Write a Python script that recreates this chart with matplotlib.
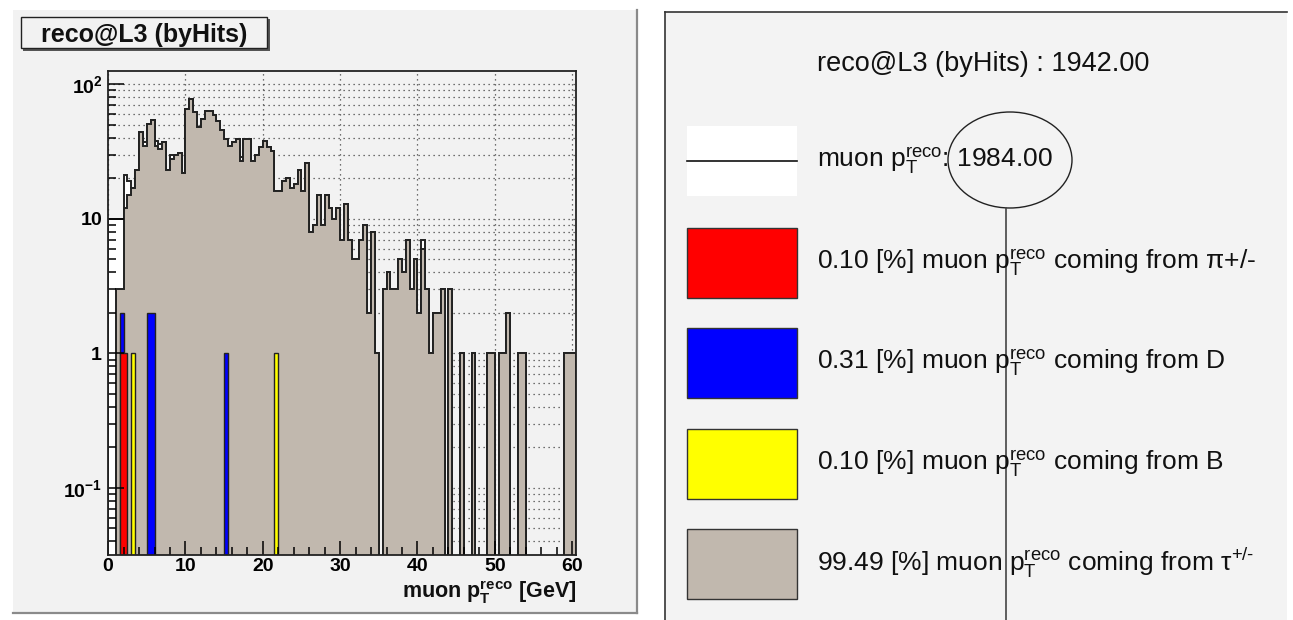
import numpy as np
import matplotlib
matplotlib.use('Agg')
import matplotlib.pyplot as plt
from matplotlib.patches import Rectangle, Ellipse
from matplotlib.ticker import FixedLocator, FixedFormatter, MultipleLocator, LogLocator, NullFormatter

plt.rcParams['font.family'] = ['Liberation Sans', 'DejaVu Sans']
plt.rcParams['mathtext.fontset'] = 'custom'
plt.rcParams['mathtext.rm'] = 'Liberation Sans'
plt.rcParams['mathtext.it'] = 'Liberation Sans:italic'
plt.rcParams['mathtext.bf'] = 'Liberation Sans:bold'

# binning: 0.5 GeV bins, 0 .. 60.5 GeV
bin_lo, bin_hi, bin_w = 0.0, 60.5, 0.5
edges = np.arange(bin_lo, bin_hi + bin_w / 2, bin_w)
nbins = len(edges) - 1

# muon pT reco coming from tau (grey)
tau = [0, 0, 3, 3, 12, 15, 17, 23, 44, 35,
       51, 54, 35, 33, 37, 23, 28, 30, 31, 22,
       66, 78, 62, 48, 55, 63, 63, 59, 53, 46,
       39, 35, 37, 39, 27, 39, 39, 27, 30, 34,
       38, 34, 32, 16, 16, 19, 20, 17, 18, 23,
       16, 26, 8, 9, 15, 9, 15, 12, 10, 12,
       7, 13, 7, 5, 5, 7, 9, 2, 8, 1,
       0, 3, 4, 3, 3, 5, 4, 7, 3, 5,
       2, 6, 3, 1, 2, 2, 3, 0, 3, 0,
       0, 1, 0, 0, 1, 0, 0, 0, 1, 1,
       0, 1, 1, 2, 0, 0, 1, 1, 0, 0,
       0, 0, 0, 0, 0, 0, 0, 0, 1, 1,
       1]

# all muon pT reco (white)
total = [10, 10, 10, 10, 21, 19, 17, 23, 44, 37,
         51, 54, 38, 36, 37, 23, 30, 30, 31, 22,
         66, 78, 62, 48, 55, 63, 63, 59, 53, 46,
         39, 35, 37, 39, 29, 39, 39, 27, 30, 34,
         38, 34, 32, 16, 16, 19, 20, 17, 18, 23,
         16, 26, 8, 9, 15, 9, 15, 12, 10, 12,
         7, 13, 7, 5, 5, 7, 9, 2, 8, 1,
         0, 3, 4, 3, 3, 5, 4, 7, 3, 5,
         2, 7, 3, 1, 2, 2, 3, 0, 3, 0,
         0, 1, 0, 0, 1, 0, 0, 0, 1, 1,
         0, 1, 1, 2, 0, 0, 1, 1, 0, 0,
         0, 0, 0, 0, 0, 0, 0, 0, 1, 1,
         1]

# sparse sources: bin low edge -> entries
pion_x, pion_n = [1.5, 2.0], [1, 1]
dmes_x, dmes_n = [1.5, 5.0, 5.5, 15.0], [2, 2, 2, 1]
bmes_x, bmes_n = [3.0, 21.5], [1, 1]

legend_header = "reco@L3 (byHits) : 1942.00"
ptreco = r"$\mathrm{p}_{\mathrm{T}}^{\mathrm{reco}}$"
legend_labels = ["muon " + ptreco + ": 1984.00",
                 "0.10 [%] muon " + ptreco + " coming from π+/-",
                 "0.31 [%] muon " + ptreco + " coming from D",
                 "0.10 [%] muon " + ptreco + " coming from B",
                 "99.49 [%] muon " + ptreco + r" coming from $\mathrm{τ}^{\text{+/-}}$"]
legend_colors = ['white', '#ff0000', '#0000ff', '#ffff00', '#c1b8ae']
legend_rows = [161, 263, 363, 464, 564]

xticks = [0, 10, 20, 30, 40, 50, 60]
yticks = [0.1, 1, 10, 100]
ytick_labels = [r'$\mathbf{10^{-1}}$', r'$\mathbf{1}$', r'$\mathbf{10}$', r'$\mathbf{10^{2}}$']


def full(xs, ns):
    arr = np.zeros(nbins)
    idx = np.round((np.array(xs) - bin_lo) / bin_w).astype(int)
    arr[idx] = ns
    return arr


floor = 1e-3
W, H = 1293, 620
fig = plt.figure(figsize=(W / 100, H / 100), dpi=100)
fig.patch.set_facecolor('white')

# background layer in pixel coordinates
bg = fig.add_axes([0, 0, 1, 1], zorder=0)
bg.set_xlim(0, W)
bg.set_ylim(H, 0)
bg.axis('off')
bg.add_patch(Rectangle((13, 10), 624, 603, facecolor='#f2f2f2', edgecolor='none'))
bg.plot([637, 637], [10, 613], color='#8a8a8a', lw=1.6)
bg.plot([13, 637], [613, 613], color='#8a8a8a', lw=1.6)

# title box
bg.add_patch(Rectangle((23, 19), 247, 32, facecolor='#555555', edgecolor='none'))
bg.add_patch(Rectangle((21, 17), 246, 31, facecolor='#f2f2f2', edgecolor='#222222', lw=1))
bg.text(144, 42, "reco@L3 (byHits)", ha='center', va='baseline', fontsize=18,
        fontweight='bold', color='#111111')

# legend box
bg.add_patch(Rectangle((665, 12), 622, 610, facecolor='#f3f3f3', edgecolor='none'))
bg.plot([665, 1287], [12, 12], color='#333333', lw=1.2)
bg.plot([665, 665], [12, 620], color='#333333', lw=1.2)
bg.text(817, 71, legend_header, ha='left', va='baseline', fontsize=19.5, color='#111111')
for lab, col, yc in zip(legend_labels, legend_colors, legend_rows):
    if col == 'white':
        bg.add_patch(Rectangle((687, yc - 35), 110, 70, facecolor='white', edgecolor='none'))
        bg.plot([687, 797], [yc, yc], color='#111111', lw=1.2)
    else:
        bg.add_patch(Rectangle((687, yc - 35), 110, 70, facecolor=col, edgecolor='#333333', lw=1))
    bg.text(817, yc + 7, lab, ha='left', va='baseline', fontsize=19, color='#111111')

# hand drawn annotation
bg.add_patch(Ellipse((1010, 160), 124, 96, fill=False, edgecolor='#222222', lw=1))
bg.plot([1006, 1006], [208, 620], color='#444444', lw=1.2)

# axes rectangle (pixels)
x0, x1, y0, y1 = 108.1, 576, 71, 555
rect = [x0 / W, (H - y1) / H, (x1 - x0) / W, (y1 - y0) / H]
xlim = (bin_lo, bin_hi)
ylim = (0.0317, 125.6)

# grid layer below the histograms
gax = fig.add_axes(rect, zorder=1)
gax.set_facecolor('#f2f2f2')
gax.set_yscale('log')
gax.set_xlim(*xlim)
gax.set_ylim(*ylim)
gax.xaxis.set_major_locator(FixedLocator(xticks))
gax.yaxis.set_major_locator(FixedLocator(yticks))
gax.yaxis.set_minor_locator(LogLocator(base=10, subs=np.arange(2, 10)))
gax.grid(True, axis='x', which='major', color='#444444', lw=0.9, ls=(0, (1, 3)))
gax.grid(True, axis='y', which='both', color='#444444', lw=0.9, ls=(0, (1, 3)))
gax.tick_params(which='both', length=0, labelbottom=False, labelleft=False)
for s in gax.spines.values():
    s.set_visible(False)

ax = fig.add_axes(rect, zorder=2)
ax.set_facecolor('none')
ax.set_yscale('log')

ax.stairs(np.where(np.array(total) > 0, total, floor), edges, baseline=floor, fill=True,
          facecolor='white', edgecolor='#222222', lw=1.4)
ax.stairs(np.where(np.array(tau) > 0, tau, floor), edges, baseline=floor, fill=True,
          facecolor='#c1b8ae', edgecolor='#222222', lw=1.4)
for xs, ns, col in [(dmes_x, dmes_n, '#0000ff'), (pion_x, pion_n, '#ff0000'),
                    (bmes_x, bmes_n, '#ffff00')]:
    v = full(xs, ns)
    ax.stairs(np.where(v > 0, v, floor), edges, baseline=floor, fill=True,
              facecolor=col, edgecolor='#222222', lw=1.0)

ax.set_xlim(*xlim)
ax.set_ylim(*ylim)
ax.xaxis.set_major_locator(FixedLocator(xticks))
ax.xaxis.set_minor_locator(MultipleLocator(2))
ax.yaxis.set_major_locator(FixedLocator(yticks))
ax.yaxis.set_major_formatter(FixedFormatter(ytick_labels))
ax.yaxis.set_minor_locator(LogLocator(base=10, subs=np.arange(2, 10)))
ax.yaxis.set_minor_formatter(NullFormatter())
ax.tick_params(axis='x', which='major', direction='in', length=10, width=1.1, pad=2.5,
               labelsize=14)
ax.tick_params(axis='x', which='minor', direction='in', length=5.5, width=1.1)
ax.tick_params(axis='y', which='major', direction='in', length=11.5, width=1.1, pad=4,
               labelsize=14)
ax.tick_params(axis='y', which='minor', direction='in', length=6, width=1.1)
for lab in ax.get_xticklabels():
    lab.set_fontweight('bold')
for s in ax.spines.values():
    s.set_color('#222222')
    s.set_linewidth(1.3)

bg.text(576, 598, r"muon $\mathbf{p}_{\mathbf{T}}^{\mathbf{reco}}$ [GeV]", ha='right',
        va='baseline', fontsize=15.5, fontweight='bold', color='#111111')

fig.savefig('out.png', dpi=100, facecolor='white')
